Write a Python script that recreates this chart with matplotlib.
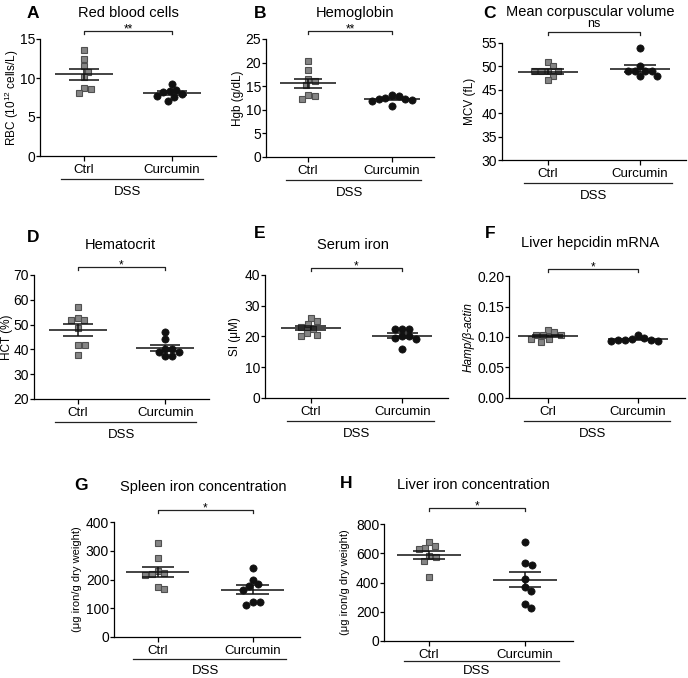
import numpy as np
import matplotlib
matplotlib.use("Agg")
import matplotlib.pyplot as plt
from matplotlib import transforms

plt.rcParams["font.family"] = ["Liberation Sans", "DejaVu Sans"]
plt.rcParams["mathtext.default"] = "regular"

# values (8 mice per group)
rbc_ctrl = [13.6, 12.4, 11.5, 10.8, 10.1, 8.7, 8.6, 8.1]
rbc_curc = [9.2, 8.5, 8.3, 8.2, 8.0, 7.7, 7.6, 7.1]
hgb_ctrl = [20.4, 18.4, 16.6, 16.1, 15.2, 13.1, 13.0, 12.2]
hgb_curc = [13.1, 12.9, 12.6, 12.3, 12.2, 12.0, 11.9, 10.7]
mcv_ctrl = [51, 50, 49, 49, 49, 49, 48, 47]
mcv_curc = [54, 50, 49, 49, 49, 49, 48, 48]
hct_ctrl = [57.2, 52.5, 51.7, 51.7, 48.8, 41.7, 41.7, 37.9]
hct_curc = [47.2, 44.1, 40.2, 40.2, 39.0, 39.0, 37.3, 37.3]
si_ctrl = [26.1, 25.0, 24.0, 23.2, 22.3, 21.0, 20.5, 20.0]
si_curc = [22.5, 22.5, 22.5, 20.2, 20.2, 19.6, 19.2, 15.9]
hamp_ctrl = [0.112, 0.108, 0.103, 0.103, 0.103, 0.097, 0.096, 0.092]
hamp_curc = [0.103, 0.098, 0.097, 0.095, 0.095, 0.095, 0.094, 0.094]
spleen_ctrl = [327, 274, 230, 221, 218, 214, 175, 168]
spleen_curc = [240, 198, 183, 177, 163, 123, 123, 111]
liver_ctrl = [674, 647, 633, 629, 584, 574, 549, 437]
liver_curc = [677, 530, 519, 425, 370, 343, 256, 229]

# mean and SEM lines as drawn in the reference
means = [[10.47, 8.05], [15.65, 12.25], [48.9, 49.55], [47.9, 40.6],
         [22.8, 20.3], [0.102, 0.096], [227, 164], [589, 418]]
sems = [[0.70, 0.25], [0.95, 0.25], [0.45, 0.7], [2.35, 1.1],
        [0.75, 0.8], [0.002, 0.0012], [18, 16], [26, 52]]

titles = ["Red blood cells", "Hemoglobin", "Mean corpuscular volume", "Hematocrit",
          "Serum iron", "Liver hepcidin mRNA", "Spleen iron concentration",
          "Liver iron concentration"]
letters = ["A", "B", "C", "D", "E", "F", "G", "H"]
ylabels = ["RBC (10$^{12}$ cells/L)", "Hgb (g/dL)", "MCV (fL)", "HCT (%)",
           "SI (\u03bcM)", "Hamp/\u03b2-actin", "(\u03bcg iron/g dry weight)",
           "(\u03bcg iron/g dry weight)"]
signif = ["**", "**", "ns", "*", "*", "*", "*", "*"]
groups = [["Ctrl", "Curcumin"]] * 5 + [["Crl", "Curcumin"]] + [["Ctrl", "Curcumin"]] * 2
yticks = [[0, 5, 10, 15], [0, 5, 10, 15, 20, 25], [30, 35, 40, 45, 50, 55],
          [20, 30, 40, 50, 60, 70], [0, 10, 20, 30, 40],
          [0.0, 0.05, 0.10, 0.15, 0.20], [0, 100, 200, 300, 400],
          [0, 200, 400, 600, 800]]
data = [(rbc_ctrl, rbc_curc), (hgb_ctrl, hgb_curc), (mcv_ctrl, mcv_curc),
        (hct_ctrl, hct_curc), (si_ctrl, si_curc), (hamp_ctrl, hamp_curc),
        (spleen_ctrl, spleen_curc), (liver_ctrl, liver_curc)]

W, H = 688, 678

# layout in pixels: (left, right, top, bottom), xlim, title xy, letter xy,
# bracket y, ylabel x, DSS line / text offsets below the axis
layout = [
    ((40, 216, 39, 156), (-0.5, 1.5), (128, 13), (33, 13), 31, 12, (23, 36)),
    ((266, 434, 39, 157), (-0.5, 1.5), (355, 13), (260, 13), 31, 238, (23, 36)),
    ((502, 686, 43, 160), (-0.5, 1.5), (590, 12), (489, 13), 32, 470, (23, 36)),
    ((34, 209, 275, 399), (-0.5, 1.5), (120, 245), (33, 237), 267, 7, (23, 36)),
    ((265, 448, 275, 398), (-0.5, 1.5), (353, 245), (260, 234), 268, 235, (23, 36)),
    ((509, 685, 276, 398), (-0.43, 1.52), (590, 243), (490, 233), 269, 469, (23, 36)),
    ((114, 300, 522, 637), (-0.46, 1.5), (203, 487), (81, 485), 510, 77, (22, 34)),
    ((384, 573, 524, 641), (-0.47, 1.5), (473, 485), (346, 483), 508, 345, (20, 30)),
]


def swarm(ypix, d):
    """Beeswarm offsets (pixels) so markers of diameter d do not overlap."""
    placed = []
    out = np.zeros(len(ypix))
    for k in np.argsort(-np.asarray(ypix), kind="stable"):
        y = ypix[k]
        cands = [0.0]
        for px, py in placed:
            dy = y - py
            if abs(dy) < d:
                dx = np.sqrt(d * d - dy * dy)
                cands += [px + dx, px - dx]
        cands.sort(key=abs)
        for c in cands:
            if all((c - px) ** 2 + (y - py) ** 2 >= d * d - 1e-6 for px, py in placed):
                break
        placed.append((c, y))
        out[k] = c
    return out


fig = plt.figure(figsize=(W / 100, H / 100), dpi=100)

for p in range(8):
    (left, right, top, bottom), xlim, tpos, lpos, by, ylx, (dss_l, dss_t) = layout[p]
    ax = fig.add_axes([left / W, 1 - bottom / H, (right - left) / W, (bottom - top) / H])
    ylim = (yticks[p][0], yticks[p][-1])
    ax.set_xlim(xlim)
    ax.set_ylim(ylim)
    wpx = right - left
    hpx = bottom - top
    xscale = wpx / (xlim[1] - xlim[0])
    yscale = hpx / (ylim[1] - ylim[0])

    for i, vals in enumerate(data[p]):
        vals = np.asarray(vals, dtype=float)
        offs = swarm(vals * yscale, 7.0) / xscale
        if i == 0:
            ax.plot(i + offs, vals, "s", ms=5.0, mfc="#858585", mec="#505050",
                    mew=0.8, zorder=3, clip_on=False)
        else:
            ax.plot(i + offs, vals, "o", ms=5.2, mfc="#111111", mec="#111111",
                    mew=0.5, zorder=3, clip_on=False)
        m, s = means[p][i], sems[p][i]
        ax.hlines(m, i - 0.33, i + 0.33, color="#111111", lw=1.1, zorder=4)
        ax.vlines(i, m - s, m + s, color="#111111", lw=1.1, zorder=4)
        ax.hlines([m - s, m + s], i - 0.17, i + 0.17, color="#111111", lw=1.1, zorder=4)

    ax.spines["top"].set_visible(False)
    ax.spines["right"].set_visible(False)
    for sp in ("left", "bottom"):
        ax.spines[sp].set_linewidth(0.9)
    ax.set_xticks([0, 1])
    ax.set_xticklabels(groups[p], fontsize=9.5)
    ax.set_yticks(yticks[p])
    if p == 5:
        ax.set_yticklabels(["%.2f" % v for v in yticks[p]])
    ax.tick_params(axis="y", direction="out", length=3, width=0.9, labelsize=10, pad=0.5)
    ax.tick_params(axis="x", direction="out", length=3.5, width=0.9, pad=2)

    ysize = 8 if p >= 6 else 8.5
    ax.set_ylabel(ylabels[p], fontsize=ysize,
                  fontstyle="italic" if p == 5 else "normal")
    ax.yaxis.set_label_coords((ylx - left) / wpx, 0.5)
    ax.yaxis.label.set_va("center")

    # significance bracket
    tr = transforms.blended_transform_factory(ax.transData, ax.transAxes)
    yb = (bottom - by) / hpx
    tick = 3 / hpx
    ax.plot([0, 0, 1, 1], [yb - tick, yb, yb, yb - tick], color="#222222", lw=0.9,
            transform=tr, clip_on=False)
    if signif[p] == "ns":
        ax.text(0.5, yb + 2 / hpx, "ns", transform=tr, ha="center", va="bottom", fontsize=9)
    else:
        ax.text(0.5, yb - 1 / hpx, signif[p], transform=tr, ha="center", va="baseline",
                fontsize=8.5)

    # DSS underline
    ax.plot([-0.26, 1.35], [-dss_l / hpx, -dss_l / hpx], color="#222222", lw=0.9,
            transform=tr, clip_on=False)
    ax.text(0.5, -dss_t / hpx, "DSS", transform=tr, ha="center", va="center", fontsize=9.5)

    fig.text(tpos[0] / W, 1 - tpos[1] / H, titles[p], ha="center", va="center",
             fontsize=10.5)
    fig.text(lpos[0] / W, 1 - lpos[1] / H, letters[p], ha="center", va="center",
             fontsize=12.5, fontweight="bold")

fig.savefig("out.png", dpi=100)
